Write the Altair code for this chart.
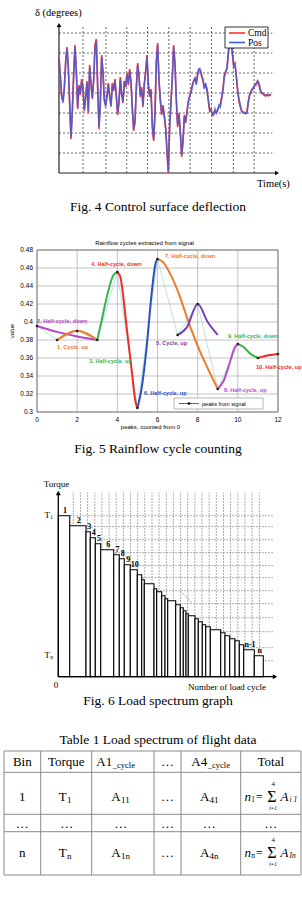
import altair as alt
import pandas as pd

SERIF = "Liberation Serif"
SANS = "Liberation Sans"
ONE = pd.DataFrame({"k": [0]})

# ---------------- Fig. 4 data (control surface deflection, sampled every 0.25 s) ----------------
fig4_dt = 0.25
fig4_cmd = [9.0, 4.0, -1.0, -2.0, 1.5, 8.0, 11.5, 6.0, -3.0, -11.5,
            -4.0, 5.0, 12.0, 5.0, -4.0, 2.0, -0.5, 3.5, 1.0, -4.5,
            -1.0, 3.0, -5.0, 7.0, 2.0, -1.5, 3.5, 12.0, 13.5, 1.0,
            -9.0, -2.0, 9.5, 5.0, -2.0, -3.0, -1.0, 2.5, -1.0, -3.0,
            2.5, 0.5, 3.5, -1.0, -5.5, -2.0, 4.0, -0.5, -2.5, 3.0,
            1.5, 5.0, 2.0, 6.0, 2.5, -4.0, -9.5, -7.0, 1.5, 7.5,
            4.0, -1.0, 1.5, -3.5, 2.5, 5.5, 9.5, 2.0, -1.0, 1.0,
            -8.5, -12.0, -5.0, 8.0, 12.5, 3.0, -2.0, -5.5, -3.0, -6.0,
            -9.0, -15.0, -20.0, -8.0, -2.0, 4.0, 12.0, 7.0, -2.0, -8.5,
            -5.0, -10.0, -16.0, -12.0, -5.5, -7.5, -4.5, -2.0, -1.0, 0.5,
            2.0, 3.0, 3.5, 2.5, 5.0, 6.0, 5.5, 4.5, 3.0, 1.5,
            2.0, 1.0, -2.0, -4.5, -4.0, -5.5, -5.0, -4.5, -5.0, -4.0,
            -3.5, -3.0, -1.0, 1.0, 4.5, 5.5, 6.0, 10.0, 13.5, 13.0,
            10.0, 7.0, 7.5, 4.0, 0.5, -2.0, -3.5, -4.5, -4.8, -5.0,
            -5.2, -4.8, -2.0, -0.5, 0.5, 1.0, 1.5, 2.0, 2.5, 3.0,
            2.0, 0.5, 0.0, -0.3, -0.5, -0.8, -0.4, -0.7, -0.5, -0.3]
fig4_pos = [8.5, 4.5, -0.5, -2.5, 1.0, 7.5, 11.0, 6.5, -2.0, -11.0,
            -5.0, 4.0, 11.5, 6.0, -3.5, 1.5, 0.0, 3.0, 1.5, -4.0,
            -1.5, 2.5, -4.5, 6.5, 2.5, -1.0, 3.0, 11.0, 13.0, 2.0,
            -8.5, -3.0, 9.0, 5.5, -1.5, -3.5, -0.5, 2.0, -0.5, -3.5,
            2.0, 1.0, 3.0, -0.5, -5.0, -2.5, 3.5, 0.0, -2.0, 2.5,
            2.0, 4.5, 2.5, 5.5, 3.0, -3.5, -9.0, -7.5, 1.0, 7.0,
            4.5, -0.5, 1.0, -3.0, 2.0, 5.0, 9.0, 2.5, -0.5, 0.5,
            -8.0, -11.5, -5.5, 7.5, 12.0, 3.5, -1.5, -5.0, -3.5, -5.5,
            -8.5, -14.0, -19.5, -9.0, -2.5, 3.5, 11.5, 7.5, -1.5, -8.0,
            -5.5, -9.5, -15.5, -12.5, -6.0, -7.0, -5.0, -2.5, -0.5, 0.0,
            1.5, 3.0, 4.0, 2.0, 4.5, 6.0, 6.0, 4.0, 3.5, 1.0,
            2.5, 0.5, -1.5, -4.0, -4.5, -5.0, -5.5, -4.0, -5.0, -4.5,
            -3.0, -3.5, -1.5, 0.5, 4.0, 5.0, 6.5, 9.5, 13.0, 13.5,
            10.5, 6.5, 7.0, 4.5, 1.0, -1.5, -3.0, -4.5, -5.0, -4.8,
            -5.0, -5.0, -2.5, -0.5, 0.0, 1.0, 1.0, 2.0, 2.0, 3.0,
            2.5, 1.0, 0.0, 0.0, -0.5, -0.5, -0.6, -0.5, -0.6, -0.4]
fig4_grid_t = [4.5, 8.8, 12.7, 16.6, 20.6, 24.6, 28.6, 32.7, 36.6]
fig4_grid_v = [-15, -10, -5, 0, 5, 10, 15]

# ---------------- Fig. 5 data (rainflow) ----------------
fig5_peak_x = [0, 1, 2, 3, 4, 5, 6, 7, 8, 9, 10, 11, 12]
fig5_peak_y = [0.3956, 0.38, 0.39, 0.38, 0.4556, 0.3044, 0.47, 0.3856, 0.42, 0.3256, 0.3756, 0.36, 0.3645]
fig5_segments = [
    ("2. Half-cycle, down", "#b146c2", [0, 1, 2, 3], [0.3956, 0.389, 0.384, 0.38]),
    ("1. Cycle, up", "#f07a2a", [1, 2, 3], [0.38, 0.3904, 0.38]),
    ("3. Half-cycle, up", "#3cb44b", [3, 3.2, 3.5, 3.8, 4], [0.38, 0.40, 0.43, 0.452, 0.4556]),
    ("4. Half-cycle, down", "#f02a2a", [4, 4.15, 4.46, 4.71, 4.9, 5], [0.4556, 0.45, 0.395, 0.347, 0.312, 0.3044]),
    ("6. Half-cycle, up", "#2d4fc4", [5, 5.2, 5.45, 5.7, 5.9, 6], [0.3044, 0.325, 0.37, 0.43, 0.465, 0.47]),
    ("7. Half-cycle, down", "#f07a2a", [6, 6.3, 6.62, 7.12, 7.45, 8.12, 8.62, 9], [0.47, 0.466, 0.454, 0.428, 0.406, 0.367, 0.343, 0.3256]),
    ("5. Cycle, up", "#7440b4", [7, 7.46, 8, 8.5, 9], [0.3856, 0.394, 0.42, 0.40, 0.3856]),
    ("8. Half-cycle, up", "#b44fd0", [9, 9.3, 9.6, 9.85, 10], [0.3256, 0.335, 0.355, 0.372, 0.3756]),
    ("9. Half-cycle, down", "#3cb44b", [10, 10.3, 10.6, 11], [0.3756, 0.372, 0.365, 0.36]),
    ("10. Half-cycle, up", "#f02a2a", [11, 11.4, 12], [0.36, 0.3625, 0.3645]),
]
fig5_labels = ["1. Cycle, up", "2. Half-cycle, down", "3. Half-cycle, up", "4. Half-cycle, down",
               "5. Cycle, up", "6. Half-cycle, up", "7. Half-cycle, down", "8. Half-cycle, up",
               "9. Half-cycle, down", "10. Half-cycle, up"]
fig5_label_x = [1.0, 0.0, 2.6, 2.7, 5.93, 5.33, 6.37, 9.31, 9.51, 10.9]
fig5_label_y = [0.3726, 0.4014, 0.357, 0.4644, 0.3767, 0.3214, 0.4733, 0.3244, 0.3848, 0.3503]
fig5_label_color = ["#f07a2a", "#b146c2", "#3cb44b", "#f02a2a", "#7440b4", "#2d4fc4", "#f07a2a",
                    "#b44fd0", "#3cb44b", "#f02a2a"]
fig5_xticks = [0, 2, 4, 6, 8, 10, 12]
fig5_yticks = [0.3, 0.32, 0.34, 0.36, 0.38, 0.4, 0.42, 0.44, 0.46, 0.48]

# ---------------- Fig. 6 data (load spectrum) ----------------
fig6_cycles = [114, 163, 43, 50, 54, 130, 56, 50, 60, 70, 44, 26, 97, 27, 50, 33, 27, 80, 46, 30,
               27, 23, 67, 33, 40, 34, 46, 104, 43, 47, 53, 43, 44, 106, 90]
fig6_torque = [161, 151, 145, 139, 133, 127, 122, 118, 112, 107, 102, 97, 93, 88, 85, 81, 78, 76, 72, 69,
               66, 63, 61, 58, 55, 52, 50, 47, 44, 41, 38, 36, 32, 27, 21]
fig6_labels = ["1", "2", "3", "4", "5", "6", "7", "8", "9", "10"] + [""] * 23 + ["n-1", "n"]
fig6_grid_x = [150, 222, 293, 365, 436, 508, 579, 651, 722, 794, 865, 937, 1008, 1080, 1151, 1223,
               1294, 1366, 1437, 1509, 1580, 1652, 1723, 1795, 1866, 1938, 2010]
fig6_grid_y = [161, 150, 137, 124, 111, 99, 86, 73, 59, 45, 29, 16]

# ---------------- Table 1 ----------------
table_header = ["Bin", "Torque", "A1", "…", "A4", "Total"]
table_rows = [["1", "T", "A", "…", "A", ""], ["…", "…", "…", "…", "…", "…"], ["n", "T", "A", "…", "A", ""]]
table_subs = [["", "1", "11", "", "41", ""], ["", "", "", "", "", ""], ["", "n", "1n", "", "4n", ""]]


# ---------------- helpers ----------------
def txt(s, x, y, size=10, font=SERIF, align="center", baseline="middle", color="black",
        weight="normal", style="normal", angle=None):
    kw = dict(text=s, align=align, baseline=baseline, font=font, fontSize=size, color=color,
              fontWeight=weight, fontStyle=style)
    if angle is not None:
        kw["angle"] = angle
    return alt.Chart(ONE).mark_text(**kw).encode(x=alt.value(x), y=alt.value(y))


def rule(x1, y1, x2, y2, color="black", width=1.0, dash=None):
    kw = dict(color=color, strokeWidth=width)
    if dash:
        kw["strokeDash"] = dash
    return alt.Chart(ONE).mark_rule(**kw).encode(
        x=alt.value(x1), y=alt.value(y1), x2=alt.value(x2), y2=alt.value(y2))


def arrow(x, y, shape, size=22):
    return alt.Chart(ONE).mark_point(shape=shape, filled=True, size=size, color="black", opacity=1).encode(
        x=alt.value(x), y=alt.value(y))


def box(x1, y1, x2, y2, stroke="black", width=0.8, fill="white"):
    return alt.Chart(ONE).mark_rect(fill=fill, stroke=stroke, strokeWidth=width).encode(
        x=alt.value(x1), x2=alt.value(x2), y=alt.value(y1), y2=alt.value(y2))


# ================= Fig. 4 =================
x4 = alt.Scale(domain=[0, 40], range=[59, 272.3], nice=False, zero=False)
y4 = alt.Scale(domain=[-20, 15], range=[173, 33], nice=False, zero=False)

f4_df = pd.DataFrame({
    "t": [i * fig4_dt for i in range(len(fig4_cmd))],
    "cmd": fig4_cmd,
    "pos": fig4_pos,
})
g4v = pd.DataFrame({"t": fig4_grid_t, "lo": -20, "hi": 17})
g4h = pd.DataFrame({"v": fig4_grid_v, "a": 0, "b": 40})

f4_gv = alt.Chart(g4v).mark_rule(color="#555555", strokeWidth=0.9, strokeDash=[2, 2]).encode(
    x=alt.X("t:Q", scale=x4, axis=None), y=alt.Y("lo:Q", scale=y4, axis=None), y2="hi:Q")
f4_gh = alt.Chart(g4h).mark_rule(color="#555555", strokeWidth=0.9, strokeDash=[2, 2]).encode(
    x=alt.X("a:Q", scale=x4, axis=None), x2="b:Q", y=alt.Y("v:Q", scale=y4, axis=None))
f4_cmd = alt.Chart(f4_df).mark_line(color="#ff3030", strokeWidth=1.6).encode(
    x=alt.X("t:Q", scale=x4, axis=None), y=alt.Y("cmd:Q", scale=y4, axis=None))
f4_pos = alt.Chart(f4_df).mark_line(color="#3a5fe0", strokeWidth=1.6, opacity=0.8).encode(
    x=alt.X("t:Q", scale=x4, axis=None), y=alt.Y("pos:Q", scale=y4, axis=None))

fig4 = alt.layer(
    f4_gv, f4_gh,
    rule(59, 173, 59, 27, "#222222", 1.2),
    arrow(59, 25, "triangle-up"),
    rule(59, 173, 275, 173, "#222222", 1.2),
    arrow(277, 173, "triangle-right"),
    f4_cmd, f4_pos,
    box(225, 27, 268, 48),
    rule(229, 33, 245, 33, "#ff3030", 1.6),
    rule(229, 42.5, 245, 42.5, "#3a5fe0", 1.6),
    txt("Cmd", 248, 33, 9.5, align="left"),
    txt("Pos", 248, 42.8, 9.5, align="left"),
    txt("δ (degrees)", 35, 12.5, 10.5, align="left"),
    txt("Time(s)", 257, 183.5, 10.5, align="left"),
    txt("Fig. 4 Control surface deflection", 158, 207, 13.5),
)

# ================= Fig. 5 =================
x5 = alt.Scale(domain=[0, 12], range=[37, 278], nice=False, zero=False)
y5 = alt.Scale(domain=[0.3, 0.48], range=[412, 250], nice=False, zero=False)

rows = []
for name, color, xs, ys in fig5_segments:
    for i, (xx, yy) in enumerate(zip(xs, ys)):
        rows.append({"seg": name, "color": color, "x": xx, "y": yy, "o": i})
seg_df = pd.DataFrame(rows)
peak_df = pd.DataFrame({"x": fig5_peak_x, "y": fig5_peak_y})
lab_df = pd.DataFrame({"label": fig5_labels, "x": fig5_label_x, "y": fig5_label_y, "color": fig5_label_color})
g5x = pd.DataFrame({"x": fig5_xticks, "lo": 0.3, "hi": 0.48, "lab": [str(v) for v in fig5_xticks]})
g5y = pd.DataFrame({"y": fig5_yticks, "a": 0, "b": 12, "lab": [f"{v:g}" for v in fig5_yticks]})

X5 = lambda f: alt.X(f, scale=x5, axis=None)
Y5 = lambda f: alt.Y(f, scale=y5, axis=None)

f5_gx = alt.Chart(g5x).mark_rule(color="#b4b4b4", strokeWidth=0.8).encode(x=X5("x:Q"), y=Y5("lo:Q"), y2="hi:Q")
f5_gy = alt.Chart(g5y).mark_rule(color="#b4b4b4", strokeWidth=0.8).encode(x=X5("a:Q"), x2="b:Q", y=Y5("y:Q"))
f5_xl = alt.Chart(g5x).mark_text(font=SANS, fontSize=6.5, baseline="middle").encode(
    x=X5("x:Q"), y=alt.value(419.5), text="lab:N")
f5_yl = alt.Chart(g5y).mark_text(font=SANS, fontSize=6.5, align="right", baseline="middle").encode(
    x=alt.value(33), y=Y5("y:Q"), text="lab:N")
f5_peakline = alt.Chart(peak_df).mark_line(color="#a6dcd4", strokeWidth=0.8).encode(x=X5("x:Q"), y=Y5("y:Q"))
f5_segs = alt.Chart(seg_df).mark_line(interpolate="monotone", strokeWidth=2).encode(
    x=X5("x:Q"), y=Y5("y:Q"), detail="seg:N", order="o:Q",
    color=alt.Color("color:N", scale=None))
f5_dots = alt.Chart(peak_df).mark_circle(color="#222222", size=7, opacity=1).encode(x=X5("x:Q"), y=Y5("y:Q"))
f5_labels = alt.Chart(lab_df).mark_text(font=SANS, fontSize=5.6, fontWeight="bold", align="left",
                                        baseline="middle").encode(
    x=X5("x:Q"), y=Y5("y:Q"), text="label:N", color=alt.Color("color:N", scale=None))

fig5 = alt.layer(
    f5_gx, f5_gy,
    box(37, 250, 278, 412, "#666666", 0.8, "transparent"),
    f5_peakline, f5_segs, f5_dots, f5_labels,
    box(174, 398, 263, 409, "#888888", 0.6),
    rule(179, 403.5, 199, 403.5, "#222222", 0.7),
    arrow(189, 403.5, "circle", 7),
    txt("peaks from signal", 202, 403.5, 5.6, font=SANS, align="left"),
    f5_xl, f5_yl,
    txt("Rainflow cycles extracted from signal", 144.5, 243, 6, font=SANS),
    txt("peaks, counted from 0", 150.5, 427, 6, font=SANS),
    txt("value", 12, 331, 6, font=SANS, angle=270),
    txt("Fig. 5 Rainflow cycle counting", 158, 449, 13.5),
)

# ================= Fig. 6 =================
x6 = alt.Scale(domain=[0, 2167], range=[58.3, 275], nice=False, zero=False)
y6 = alt.Scale(domain=[0, 184], range=[676.7, 492.7], nice=False, zero=False)
X6 = lambda f: alt.X(f, scale=x6, axis=None)
Y6 = lambda f: alt.Y(f, scale=y6, axis=None)

bar_df = pd.DataFrame({"cyc": fig6_cycles, "torque": fig6_torque, "label": fig6_labels})
g6x = pd.DataFrame({"x": fig6_grid_x, "lo": 0, "hi": 184})
g6y = pd.DataFrame({"y": fig6_grid_y, "a": 0, "b": 2157})

f6_gx = alt.Chart(g6x).mark_rule(color="#777777", strokeWidth=0.8, strokeDash=[1.5, 1.5]).encode(
    x=X6("x:Q"), y=Y6("lo:Q"), y2="hi:Q")
f6_gy = alt.Chart(g6y).mark_rule(color="#777777", strokeWidth=0.8, strokeDash=[1.5, 1.5]).encode(
    x=X6("a:Q"), x2="b:Q", y=Y6("y:Q"))
bars_base = alt.Chart(bar_df).transform_window(
    end="sum(cyc)", frame=[None, 0]
).transform_calculate(
    start="datum.end - datum.cyc", mid="datum.end - datum.cyc / 2", base="0"
)
f6_bars = bars_base.mark_rect(fill="white", stroke="black", strokeWidth=1.1).encode(
    x=X6("start:Q"), x2="end:Q", y=Y6("torque:Q"), y2="base:Q")
f6_blab = bars_base.mark_text(font=SERIF, fontSize=8, fontWeight="bold", baseline="bottom", dx=1, dy=-1).encode(
    x=X6("mid:Q"), y=Y6("torque:Q"), text="label:N")

fig6 = alt.layer(
    f6_gx, f6_gy, f6_bars, f6_blab,
    rule(58.3, 676.7, 58.3, 495, "black", 1.3),
    arrow(58.3, 493, "triangle-up", 25),
    rule(58.3, 676.7, 273, 676.7, "black", 1.3),
    arrow(275, 676.7, "triangle-right", 25),
    rule(181.7, 592.3, 191.7, 602.3, "#333333", 0.8, [1, 1.5]),
    txt("Torque", 56.5, 484, 9),
    txt("T", 50, 515, 9, align="right"),
    txt("1", 50.3, 517, 5.5, align="left"),
    txt("T", 50, 655, 9, align="right"),
    txt("n", 50.3, 657, 5.5, align="left"),
    txt("0", 56, 685, 9),
    txt("Number of load cycle", 227, 687, 9),
    txt("Fig. 6 Load spectrum graph", 158, 701, 13.5),
)

# ================= Table 1 =================
col_edges = [4, 40.7, 91.7, 154, 181, 240.7, 301]
row_edges = [751, 772.3, 814.3, 831.7, 875]
row_text_y = [762.3, 796.7, 824.3, 852.7]
col_split = [22.3, 66.7, 120.7, 167.5, 209.3, 270.8]
head_split = [22.3, 66.3, 112.2, 167.5, 207.2, 270.8]

hl = pd.DataFrame({"y": row_edges, "a": col_edges[0], "b": col_edges[-1]})
vl = pd.DataFrame({"x": col_edges, "a": row_edges[0], "b": row_edges[-1]})
t_hl = alt.Chart(hl).mark_rule(color="#8a8a8a", strokeWidth=1).encode(
    x=alt.X("a:Q", scale=None), x2="b:Q", y=alt.Y("y:Q", scale=None))
t_vl = alt.Chart(vl).mark_rule(color="#8a8a8a", strokeWidth=1).encode(
    x=alt.X("x:Q", scale=None), y=alt.Y("a:Q", scale=None), y2="b:Q")

cells = []
hy = row_text_y[0]
for j, h in enumerate(table_header):
    if h in ("A1", "A4"):
        cells.append(txt(h, head_split[j], hy, 13, align="right"))
        cells.append(txt("_cycle", head_split[j] + 0.6, hy + 3, 8.5, align="left"))
    else:
        cells.append(txt(h, head_split[j], hy, 13))
for r, row in enumerate(table_rows):
    cy = row_text_y[r + 1]
    for j, v in enumerate(row):
        sub = table_subs[r][j]
        if v == "":
            continue
        if sub:
            cells.append(txt(v, col_split[j], cy, 13, align="right"))
            cells.append(txt(sub, col_split[j] + 0.3, cy + 3.5, 9, align="left"))
        else:
            cells.append(txt(v, col_split[j], cy, 13))


def total_formula(cy, sub_n, sub_a):
    return [
        txt("n", 251, cy, 13, align="right", style="italic"),
        txt(sub_n, 251.3, cy + 3, 7.5, align="left"),
        txt("=", 259.5, cy, 12),
        txt("Σ", 272, cy, 16),
        txt("4", 273, cy - 13, 6.5),
        txt("i=1", 273, cy + 11.5, 5.5, style="italic"),
        txt("A", 280.5, cy, 13, align="left", style="italic"),
        txt(sub_a, 289.5, cy + 3.5, 7.5, align="left", style="italic"),
    ]


cells += total_formula(row_text_y[1], "1", "i 1")
cells += total_formula(row_text_y[3], "n", "In")

table = alt.layer(
    t_hl, t_vl, *cells,
    txt("Table 1 Load spectrum of flight data", 158, 740, 13.5),
)

chart = alt.layer(fig4, fig5, fig6, table).resolve_scale(
    x="independent", y="independent"
).properties(
    width=302, height=903, padding=0,
    autosize=alt.AutoSizeParams(type="none"), background="white"
).configure_view(stroke=None)

chart.save("out.html", embed_options={"renderer": "svg", "actions": False})
